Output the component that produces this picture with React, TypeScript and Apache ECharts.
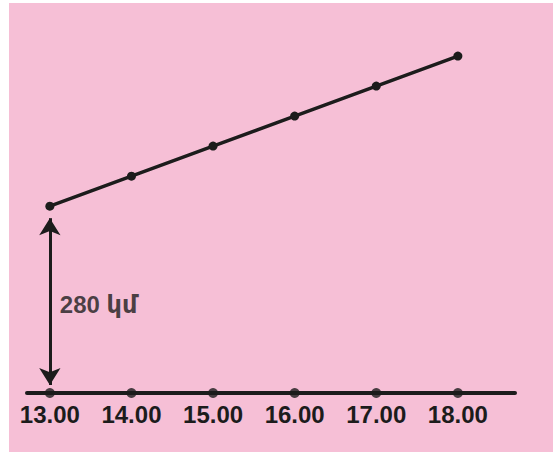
import React, { useEffect, useRef } from "react";
import * as echarts from "echarts";

const hours = [13, 14, 15, 16, 17, 18];
const distances = [280, 325, 370, 415, 460, 505];
const tickLabels = ["13.00", "14.00", "15.00", "16.00", "17.00", "18.00"];
const startDistance = 280;
const arrowLabel = "280 կմ";

const INK = "#1c1c1c";
const FONT = "'Liberation Sans', Arial, 'DejaVu Sans', sans-serif";

export default function App() {
  const ref = useRef<HTMLDivElement>(null);
  useEffect(() => {
    if (!ref.current) return;
    const chart = echarts.init(ref.current, null, { renderer: "svg" });
    chart.setOption({
      animation: false,
      backgroundColor: "#ffffff",
      graphic: [
        {
          type: "rect",
          z: -10,
          shape: { x: 9, y: 3, width: 560, height: 460 },
          style: { fill: "#f6bfd6" },
        },
      ],
      grid: { left: 27, right: 38, top: 26, bottom: 59 },
      xAxis: {
        type: "value",
        min: 12.72,
        max: 18.7,
        splitLine: { show: false },
        axisTick: { show: false },
        axisLine: { show: true, lineStyle: { color: INK, width: 4 } },
        axisLabel: {
          customValues: hours,
          formatter: (v: number) => tickLabels[hours.indexOf(Math.round(v))] ?? "",
          color: INK,
          fontSize: 24,
          fontWeight: "bold",
          fontFamily: FONT,
          margin: 9,
        },
      },
      yAxis: {
        type: "value",
        min: 0,
        max: 550,
        show: false,
        splitLine: { show: false },
      },
      series: [
        {
          type: "line",
          data: hours.map((h, i) => [h, distances[i]]),
          symbol: "circle",
          symbolSize: 9,
          lineStyle: { color: INK, width: 3.5 },
          itemStyle: { color: INK },
          z: 5,
          markLine: {
            silent: true,
            symbol: ["arrow", "arrow"],
            symbolSize: [16, 17],
            lineStyle: { color: INK, width: 3, type: "solid" },
            label: { show: false },
            data: [
              [
                { coord: [hours[0], 12] },
                { coord: [hours[0], startDistance - 18] },
              ],
            ],
          },
        },
        {
          type: "scatter",
          data: hours.map((h) => [h, 0]),
          symbol: "circle",
          symbolSize: 10,
          itemStyle: { color: INK },
          z: 6,
        },
        {
          type: "scatter",
          data: [[hours[0], 132]],
          symbolSize: 0,
          silent: true,
          label: {
            show: true,
            position: "right",
            distance: 10,
            formatter: () => arrowLabel,
            color: INK,
            fontSize: 24,
            fontWeight: "bold",
            fontFamily: FONT,
          },
        },
      ],
    });
    return () => chart.dispose();
  }, []);
  return (
    <div
      ref={ref}
      style={{ position: "absolute", left: 0, top: 0, width: 553, height: 452 }}
    />
  );
}
